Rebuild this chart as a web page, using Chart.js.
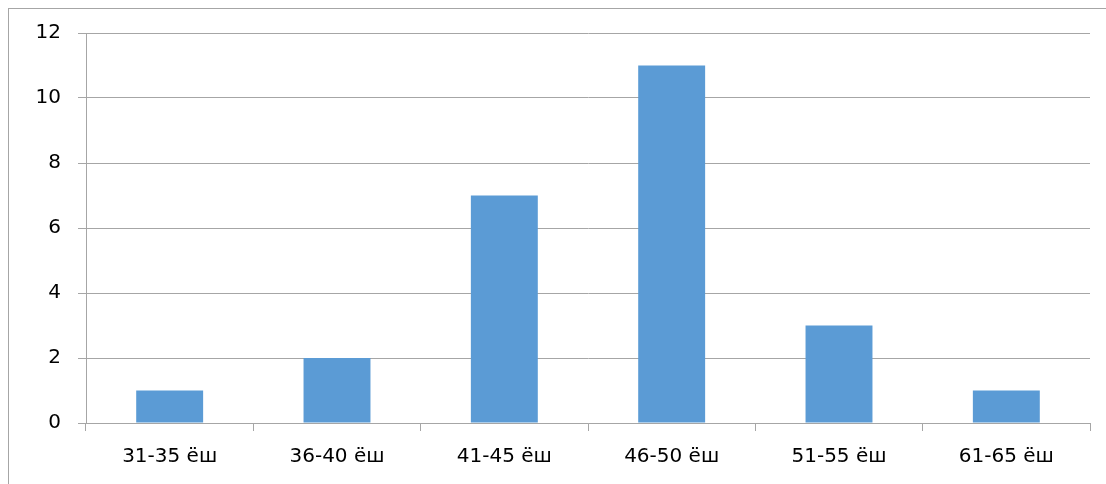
<!DOCTYPE html>
<html>
<head>
<meta charset="utf-8">
<script src="https://cdn.jsdelivr.net/npm/chart.js@4"></script>
<style>
  html, body { margin: 0; padding: 0; background: #fff; }
  .wrap { position: relative; width: 1106px; height: 484px; overflow: hidden; }
  .frame { position: absolute; left: 8px; top: 8px; width: 1200px; height: 600px;
           border-left: 1px solid #a6a6a6; border-top: 1px solid #a6a6a6; }
  canvas { position: absolute; left: 0; top: 0; }
</style>
</head>
<body>
<div class="wrap">
  <div class="frame"></div>
  <canvas id="chart" width="1106" height="484"></canvas>
</div>
<script>
const ageGroups = ["31-35 ёш", "36-40 ёш", "41-45 ёш", "46-50 ёш", "51-55 ёш", "61-65 ёш"];
const counts = [1, 2, 7, 11, 3, 1];
const yTicks = [0, 2, 4, 6, 8, 10, 12];

const gridColor = "#a6a6a6";
const labelFont = { family: "'DejaVu Sans', sans-serif", size: 20 };

const ctx = document.getElementById("chart").getContext("2d");
new Chart(ctx, {
  type: "bar",
  data: {
    labels: ageGroups,
    datasets: [
      {
        data: counts,
        backgroundColor: "#5b9bd5",
        borderWidth: 0,
        barPercentage: 0.4,
        categoryPercentage: 1.0,
      },
    ],
  },
  options: {
    responsive: false,
    animation: false,
    layout: { padding: { top: 33, right: 16, bottom: 0, left: 0 } },
    plugins: {
      legend: { display: false },
      tooltip: { enabled: false },
    },
    scales: {
      x: {
        grid: {
          drawOnChartArea: false,
          drawTicks: true,
          tickLength: 8,
          color: gridColor,
        },
        border: { color: gridColor },
        ticks: { color: "#000", font: labelFont, padding: 14, maxRotation: 0 },
        afterFit: (scale) => { scale.height = 61; },
      },
      y: {
        min: 0,
        max: 12,
        afterBuildTicks: (scale) => { scale.ticks = yTicks.map((v) => ({ value: v })); },
        grid: { color: gridColor, tickLength: 8 },
        border: { color: gridColor },
        ticks: { color: "#000", font: labelFont, padding: 17 },
        afterFit: (scale) => { scale.width = 86; },
      },
    },
  },
});
</script>
</body>
</html>
